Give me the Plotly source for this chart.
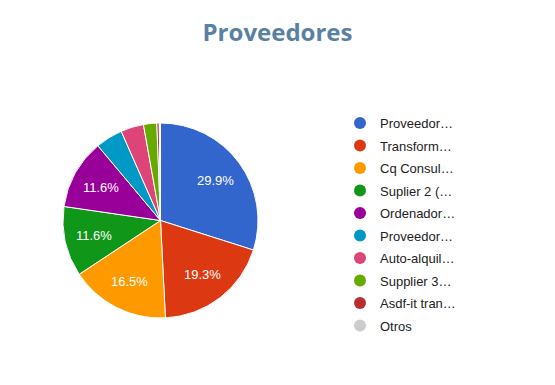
import math
import plotly.graph_objects as go

labels = ["Proveedor…", "Transform…", "Cq Consul…", "Suplier 2 (…", "Ordenador…",
          "Proveedor… ", "Auto-alquil…", "Supplier 3…", "Asdf-it tran…", "Otros"]
values = [29.9, 19.3, 16.5, 11.6, 11.6, 4.5, 3.8, 2.2, 0.4, 0.2]
colors = ["#3366cc", "#dc3912", "#ff9900", "#109618", "#990099",
          "#0099c6", "#dd4477", "#66aa00", "#b82e2e", "#cccccc"]

W, H = 555, 385
dom_x = [63 / W, 258 / W]
dom_y = [67 / H, 262 / H]

fig = go.Figure()
fig.add_trace(go.Pie(
    labels=labels, values=values, textinfo="none",
    marker=dict(colors=colors, line=dict(color="white", width=1)),
    sort=False, direction="clockwise", rotation=0,
    domain=dict(x=dom_x, y=dom_y),
    showlegend=False, hoverinfo="label+percent",
))

# percentage labels placed like Google Charts (outer part of each slice)
total = sum(values)
cx = (dom_x[0] + dom_x[1]) / 2
cy = (dom_y[0] + dom_y[1]) / 2
R_px = (dom_x[1] - dom_x[0]) * W / 2
cum = 0.0
for v in values:
    frac = v / total
    mid = (cum + frac / 2) * 2 * math.pi
    cum += frac
    if frac < 0.05:
        continue
    r = 0.7 * R_px
    fig.add_annotation(
        x=cx + r * math.sin(mid) / W, y=cy + r * math.cos(mid) / H,
        xref="paper", yref="paper", xanchor="center", yanchor="middle",
        text=f"{frac * 100:.1f}%", showarrow=False,
        font=dict(family="Arial, Liberation Sans", size=13, color="white"),
    )

for i, (lab, col) in enumerate(zip(labels, colors)):
    fig.add_trace(go.Scatter(
        x=[None], y=[None], mode="markers", name=lab.strip(),
        marker=dict(color=col, size=13, symbol="circle"),
        legendgroup=f"g{i}", showlegend=True,
    ))

fig.update_layout(
    width=W, height=H,
    margin=dict(l=0, r=0, t=0, b=0),
    paper_bgcolor="white", plot_bgcolor="white",
    title=dict(text="<b>Proveedores</b>", x=0.5, xanchor="center", y=1 - 33 / H, yanchor="middle",
               font=dict(family="Open Sans", size=24, color="#5a80a6")),
    xaxis=dict(visible=False), yaxis=dict(visible=False),
    legend=dict(x=340 / W, xanchor="left", y=1 - 108 / H, yanchor="top",
                font=dict(family="Arial, Liberation Sans", size=13, color="#222222"),
                tracegroupgap=2.6, itemsizing="constant", bgcolor="rgba(0,0,0,0)"),
)

fig.write_html("out.html", config={"displayModeBar": False},
               post_script="document.body.style.margin='0';")
